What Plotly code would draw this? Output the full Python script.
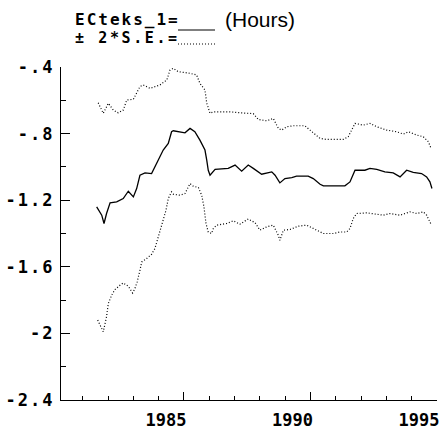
import plotly.graph_objects as go

# Estimated series (decimal years) with its +/- 2 standard-error band
est_years = [1981.55, 1981.75, 1981.84, 1981.94, 1982.08, 1982.34, 1982.60, 1982.80, 1983.00, 1983.13,
             1983.26, 1983.46, 1983.72, 1983.98, 1984.18, 1984.38, 1984.51, 1984.58, 1985.04, 1985.24,
             1985.43, 1985.63, 1985.83, 1985.90, 1985.96, 1986.03, 1986.23, 1986.75, 1987.02, 1987.28,
             1987.54, 1987.74, 1988.07, 1988.47, 1988.60, 1988.79, 1988.99, 1989.26, 1989.45, 1989.91,
             1990.11, 1990.38, 1990.51, 1991.36, 1991.56, 1991.76, 1992.15, 1992.35, 1992.62, 1992.94,
             1993.27, 1993.54, 1993.80, 1994.06, 1994.39, 1994.59, 1994.72, 1994.80]
est_values = [-1.240, -1.290, -1.340, -1.280, -1.216, -1.210, -1.190, -1.146, -1.180, -1.130,
              -1.050, -1.036, -1.040, -0.959, -0.899, -0.859, -0.789, -0.783, -0.795, -0.769,
              -0.789, -0.839, -0.899, -0.959, -1.020, -1.050, -1.015, -1.009, -0.989, -1.026,
              -0.989, -1.009, -1.044, -1.030, -1.050, -1.096, -1.070, -1.064, -1.056, -1.056,
              -1.070, -1.104, -1.114, -1.114, -1.090, -1.020, -1.020, -1.009, -1.015, -1.030,
              -1.036, -1.060, -1.020, -1.033, -1.040, -1.060, -1.090, -1.130]

upper_years = [1981.61, 1981.81, 1982.01, 1982.21, 1982.40, 1982.60, 1982.74, 1983.00, 1983.26, 1983.39,
               1983.66, 1984.05, 1984.32, 1984.45, 1984.58, 1984.77, 1985.24, 1985.50, 1985.63, 1985.83,
               1985.90, 1986.03, 1986.16, 1986.82, 1987.21, 1987.48, 1987.74, 1987.94, 1988.27, 1988.53,
               1988.73, 1988.86, 1989.06, 1989.32, 1989.78, 1989.98, 1990.38, 1990.64, 1991.30, 1991.49,
               1991.63, 1991.76, 1992.09, 1992.35, 1992.62, 1993.01, 1993.41, 1993.67, 1993.87, 1994.20,
               1994.46, 1994.66, 1994.75]
upper_values = [-0.615, -0.678, -0.618, -0.659, -0.675, -0.659, -0.598, -0.594, -0.518, -0.508,
                -0.528, -0.508, -0.478, -0.418, -0.408, -0.428, -0.438, -0.448, -0.498, -0.538,
                -0.617, -0.678, -0.669, -0.669, -0.675, -0.678, -0.680, -0.715, -0.723, -0.709,
                -0.769, -0.779, -0.759, -0.753, -0.753, -0.779, -0.829, -0.835, -0.835, -0.819,
                -0.779, -0.739, -0.749, -0.739, -0.759, -0.779, -0.789, -0.803, -0.789, -0.809,
                -0.819, -0.849, -0.883]

lower_years = [1981.59, 1981.81, 1981.94, 1982.01, 1982.14, 1982.27, 1982.47, 1982.60, 1982.80, 1982.97,
               1983.06, 1983.15, 1983.26, 1983.33, 1983.52, 1983.72, 1983.85, 1983.94, 1984.05, 1984.18,
               1984.29, 1984.38, 1984.51, 1984.58, 1984.84, 1985.04, 1985.24, 1985.37, 1985.57, 1985.70,
               1985.79, 1985.87, 1985.96, 1986.09, 1986.16, 1986.29, 1986.69, 1986.95, 1987.21, 1987.54,
               1987.81, 1988.00, 1988.27, 1988.53, 1988.66, 1988.73, 1988.79, 1988.93, 1989.19, 1989.52,
               1989.85, 1990.25, 1990.51, 1990.90, 1991.17, 1991.43, 1991.56, 1991.69, 1991.82, 1992.22,
               1992.62, 1992.88, 1993.14, 1993.54, 1993.93, 1994.20, 1994.46, 1994.59, 1994.75]
lower_values = [-1.920, -1.990, -1.900, -1.821, -1.771, -1.737, -1.711, -1.697, -1.717, -1.757,
                -1.731, -1.691, -1.621, -1.571, -1.551, -1.525, -1.491, -1.441, -1.380, -1.320,
                -1.260, -1.190, -1.150, -1.164, -1.170, -1.160, -1.100, -1.116, -1.124, -1.170,
                -1.240, -1.340, -1.391, -1.400, -1.370, -1.350, -1.340, -1.324, -1.344, -1.313,
                -1.335, -1.380, -1.360, -1.350, -1.391, -1.411, -1.441, -1.380, -1.376, -1.356,
                -1.350, -1.380, -1.400, -1.400, -1.391, -1.391, -1.370, -1.310, -1.280, -1.276,
                -1.284, -1.290, -1.280, -1.290, -1.270, -1.280, -1.270, -1.290, -1.340]

y_tick_values = [-0.4, -0.8, -1.2, -1.6, -2.0, -2.4]
y_tick_labels = ["-.4", "-.8", "-1.2", "-1.6", "-2", "-2.4"]
x_tick_values = [1985, 1990, 1995]
x_tick_labels = ["1985", "1990", "1995"]

MONO = "DejaVu Sans Mono"


def spaced(text, gap):
    return f'<span style="letter-spacing:{gap}px">{text}</span>'


fig = go.Figure()
fig.add_trace(go.Scatter(x=upper_years, y=upper_values, mode="lines",
                         line=dict(color="black", width=1.2, dash="1px,2px")))
fig.add_trace(go.Scatter(x=est_years, y=est_values, mode="lines",
                         line=dict(color="black", width=1.3)))
fig.add_trace(go.Scatter(x=lower_years, y=lower_values, mode="lines",
                         line=dict(color="black", width=1.2, dash="1px,2px")))

# plot area in pixels: left 61, right 437, top 67, bottom 400
L, R, T, B = 61, 437, 67, 400


def px(x):
    return (x - L) / (R - L)


def py(y):
    return (B - y) / (B - T)


fig.update_layout(
    width=443, height=430,
    margin=dict(l=L, r=443 - R, t=T, b=430 - B),
    paper_bgcolor="white", plot_bgcolor="white",
    showlegend=False,
    xaxis=dict(
        range=[1980.14, 1995.0], showgrid=False, zeroline=False, automargin=False,
        showline=True, linecolor="black", linewidth=1.3,
        tickmode="array", tickvals=x_tick_values, ticktext=x_tick_labels,
        ticks="inside", ticklen=8, tickwidth=1.2, tickcolor="black",
        minor=dict(dtick=1, tick0=1980, ticks="inside", ticklen=4, tickwidth=1, tickcolor="black"),
        tickfont=dict(family=MONO, size=17, color="black", weight="bold"),
        ticklabelshift=-18, ticklabelstandoff=4,
    ),
    yaxis=dict(
        range=[-2.4, -0.4], showgrid=False, zeroline=False, automargin=False,
        showline=True, linecolor="black", linewidth=1.3,
        tickmode="array", tickvals=y_tick_values,
        ticktext=[spaced(t, 2) for t in y_tick_labels],
        ticks="inside", ticklen=9, tickwidth=1.2, tickcolor="black",
        minor=dict(dtick=0.2, tick0=-0.4, ticks="inside", ticklen=5, tickwidth=1, tickcolor="black"),
        tickfont=dict(family=MONO, size=17, color="black", weight="bold"),
        ticklabelstandoff=2,
    ),
)

# Legend block above the plot (spaced-out monospace lettering)
fig.add_annotation(xref="paper", yref="paper", x=px(73), y=py(20), xanchor="left", yanchor="middle",
                   text=spaced("ECteks_1=", 2), showarrow=False,
                   font=dict(family=MONO, size=16, color="black", weight="bold"))
fig.add_annotation(xref="paper", yref="paper", x=px(73), y=py(38), xanchor="left", yanchor="middle",
                   text=spaced("± 2*S.E.=", 2.6), showarrow=False,
                   font=dict(family=MONO, size=15, color="black", weight="bold"))
fig.add_annotation(xref="paper", yref="paper", x=px(223), y=py(20), xanchor="left", yanchor="middle",
                   text="(Hours)", showarrow=False,
                   font=dict(family="Liberation Sans", size=21, color="black"))
fig.add_shape(type="line", xref="paper", yref="paper", x0=px(178), x1=px(215), y0=py(30), y1=py(30),
              line=dict(color="black", width=1.2))
fig.add_shape(type="line", xref="paper", yref="paper", x0=px(178), x1=px(215), y0=py(44), y1=py(44),
              line=dict(color="black", width=1.2, dash="1px,2px"))

fig.write_html("out.html")
